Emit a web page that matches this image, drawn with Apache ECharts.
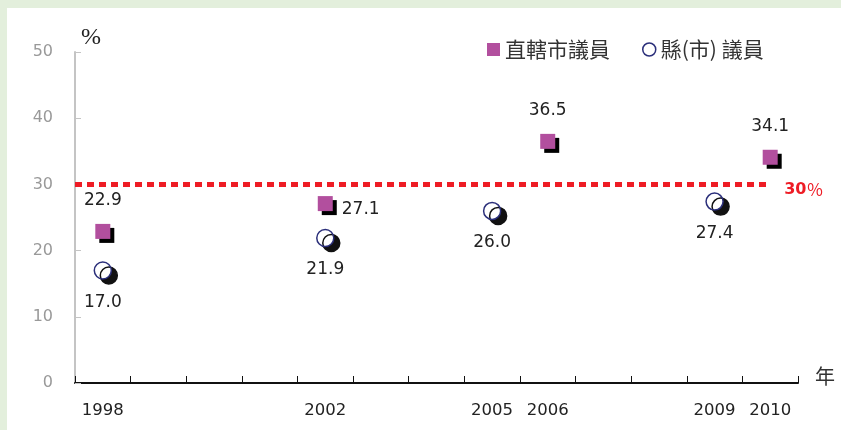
<!DOCTYPE html>
<html>
<head>
<meta charset="utf-8">
<script src="https://cdn.jsdelivr.net/npm/echarts@6/dist/echarts.min.js"></script>
<style>
  html, body { margin: 0; padding: 0; background: #e3efdc; width: 841px; height: 430px; overflow: hidden; }
  #chart { position: absolute; left: 7px; top: 8px; width: 834px; height: 422px; background: #ffffff; }
</style>
</head>
<body>
<div id="chart"></div>
<script>
// ---- data ----
const years = ['1998','1999','2000','2001','2002','2003','2004','2005','2006','2007','2008','2009','2010'];
const labeledYears = ['1998','2002','2005','2006','2009','2010'];
const cityYears = ['1998','2002','2006','2010'];
const cityValues = [22.9, 27.1, 36.5, 34.1];
const countyYears = ['1998','2002','2005','2009'];
const countyValues = [17.0, 21.9, 26.0, 27.4];
const thresholdValue = 30;
const yTicks = [0, 10, 20, 30, 40, 50];
const seriesNames = ['直轄市議員', '縣(市) 議員'];

const cityLabelSide = { '2002': 'right' };

const chart = echarts.init(document.getElementById('chart'));

const cityData = cityYears.map((y, i) => {
  const side = cityLabelSide[y] || 'top';
  return {
    value: [y, cityValues[i]],
    label: side === 'right'
      ? { position: 'right', distance: 9, offset: [0, 6] }
      : { position: 'top', distance: 15 }
  };
});
const countyData = countyYears.map((y, i) => ({ value: [y, countyValues[i]] }));

const option = {
  animation: false,
  grid: { left: 68, right: 43, top: 44, bottom: 47 },
  legend: {
    top: 26, left: 475,
    itemGap: 32,
    itemWidth: 13, itemHeight: 13,
    textStyle: { fontFamily: 'Noto Sans CJK TC', fontSize: 21, color: '#333' },
    data: [
      { name: seriesNames[0], icon: 'rect',
        itemStyle: { color: '#b24f9e', opacity: 1, shadowColor: 'transparent', shadowOffsetX: 0, shadowOffsetY: 0, shadowBlur: 0 } },
      { name: seriesNames[1], icon: 'circle',
        itemStyle: { color: '#fff', opacity: 1, borderColor: '#2b2f7a', borderWidth: 1.5, shadowColor: 'transparent', shadowOffsetX: 0, shadowOffsetY: 0, shadowBlur: 0 } }
    ]
  },
  xAxis: [{
    type: 'category',
    data: years,
    boundaryGap: true,
    name: '年',
    nameLocation: 'end',
    nameGap: 17,
    nameTextStyle: { fontFamily: 'Noto Sans CJK TC', fontSize: 20, color: '#333', verticalAlign: 'bottom', lineHeight: 14 },
    axisLine: { show: true, lineStyle: { color: '#111', width: 2 } },
    axisTick: { show: true, inside: true, length: 7, interval: 0, lineStyle: { color: '#111', width: 1 } },
    axisLabel: {
      interval: 0,
      margin: 19,
      fontFamily: 'DejaVu Sans',
      fontSize: 16.5,
      color: '#222',
      formatter: (v) => labeledYears.includes(v) ? v : ''
    },
    splitLine: { show: false }
  }, {
    type: 'value',
    min: 0, max: years.length,
    show: false
  }],
  yAxis: {
    type: 'value',
    min: yTicks[0], max: yTicks[yTicks.length - 1], interval: 10,
    name: '%',
    nameLocation: 'end',
    nameGap: 2,
    nameTextStyle: { fontFamily: 'Liberation Serif', fontSize: 24, color: '#222', align: 'left', padding: [0, 0, 0, 6] },
    axisLine: { show: true, lineStyle: { color: '#c4c4c4', width: 2 } },
    axisTick: { show: true, inside: true, length: 6, lineStyle: { color: '#c4c4c4' } },
    axisLabel: { margin: 22, fontFamily: 'DejaVu Sans', fontSize: 16, color: '#999' },
    splitLine: { show: false }
  },
  series: [
    {
      name: seriesNames[0],
      type: 'scatter',
      symbol: 'rect',
      symbolSize: 15,
      itemStyle: { color: '#b24f9e', opacity: 1, shadowColor: '#000', shadowBlur: 0, shadowOffsetX: 4, shadowOffsetY: 4 },
      label: {
        show: true,
        formatter: (p) => p.value[1].toFixed(1),
        fontFamily: 'DejaVu Sans', fontSize: 17, color: '#222'
      },
      data: cityData,
      z: 3
    },
    {
      name: seriesNames[1],
      type: 'scatter',
      symbol: 'circle',
      symbolSize: 17,
      itemStyle: { color: '#fff', opacity: 1, borderColor: '#2b2f7a', borderWidth: 1.5, shadowColor: '#111', shadowBlur: 0, shadowOffsetX: 6, shadowOffsetY: 5 },
      label: {
        show: true,
        position: 'bottom',
        distance: 14,
        formatter: (p) => p.value[1].toFixed(1),
        fontFamily: 'DejaVu Sans', fontSize: 17, color: '#222'
      },
      data: countyData,
      z: 3
    },
    {
      name: 'threshold',
      type: 'line',
      xAxisIndex: 1,
      showSymbol: false,
      silent: true,
      lineStyle: { color: '#ee1c25', width: 5, type: [7, 5] },
      endLabel: {
        show: true,
        distance: 14,
        offset: [0, 5],
        formatter: () => '{a|' + thresholdValue + '}{b|％}',
        rich: {
          a: { fontFamily: 'DejaVu Sans', fontWeight: 'bold', fontSize: 16, color: '#ee1c25' },
          b: { fontFamily: 'Noto Sans CJK TC', fontSize: 17, color: '#ee1c25' }
        }
      },
      data: [[0, thresholdValue], [years.length - 0.5, thresholdValue]],
      z: 2
    }
  ]
};
chart.setOption(option);
</script>
</body>
</html>
